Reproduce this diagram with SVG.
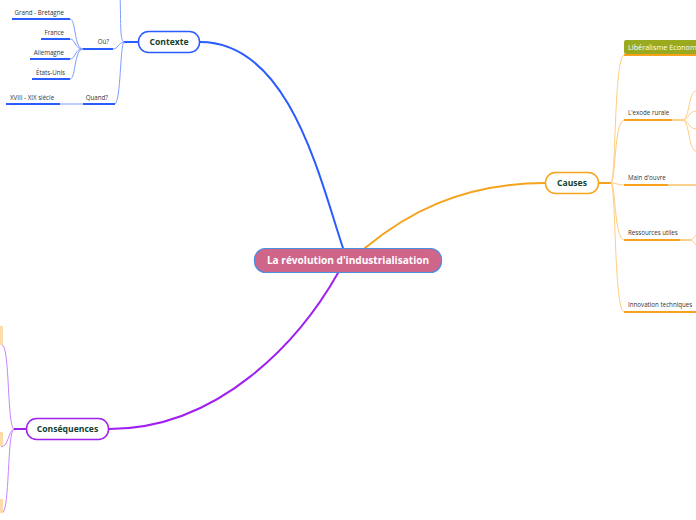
<svg xmlns="http://www.w3.org/2000/svg" width="696" height="520" viewBox="0 0 696 520">
<style>
.main{fill:none;stroke-width:2;stroke-linecap:round}
.thin{fill:none;stroke-width:1}
.ul{fill:none;stroke-width:2}
.b{stroke:#2a5cff}.bt{stroke:#7f9dff}
.o{stroke:#f7a21b}.ot{stroke:#ffcd80}
.p{stroke:#a020f0}.pt{stroke:#c983ff}
.t1{font-family:"Open Sans","Noto Sans",sans-serif;font-weight:bold;font-size:8.6px;fill:#123f30}
.t2{font-family:"Open Sans","Noto Sans",sans-serif;font-size:6.2px;fill:#333}
</style>
<g id="connectors">
<path class="main b" d="M200,42 C290,42 320,180 343,248"/>
<path class="main o" d="M365,248 C405,215 460,183 545,183"/>
<path class="main p" d="M338,273 C300,340 220,429 109,429"/>
<path class="ul b" d="M138,42 L124,42"/>
<path class="thin bt" d="M124,42 C120,40 121,30 120,-10"/>
<path class="thin bt" d="M124,42 C118,43 118,49 113,49"/>
<path class="thin bt" d="M124,42 C120,45 121,100 115,104"/>
<path class="thin bt" d="M83,49 C74,49 76,19 70,19"/>
<path class="thin bt" d="M83,49 C74,49 76,39 70,39"/>
<path class="thin bt" d="M83,49 C74,49 76,59 70,59"/>
<path class="thin bt" d="M83,49 C74,49 76,79 70,79"/>
<path class="thin bt" d="M83,104 L60,104"/>
<path class="ul o" d="M599,183 L611,183"/>
<path class="thin ot" d="M611,183 C616,180 614,58 624,55"/>
<path class="thin ot" d="M611,183 C616,180 614,122 624,120"/>
<path class="thin ot" d="M611,183 C616,183 618,185 624,185"/>
<path class="thin ot" d="M611,183 C616,186 614,238 624,240"/>
<path class="thin ot" d="M611,183 C616,186 614,310 624,312"/>
<path class="thin o" d="M672,120 L683,120"/>
<path class="thin ot" d="M683,120 C690,118 688,92 696,91"/>
<path class="thin ot" d="M683,120 C690,118 688,112 696,111"/>
<path class="thin ot" d="M683,120 C690,122 688,128 696,129"/>
<path class="thin ot" d="M683,120 C690,122 688,150 696,151"/>
<path class="thin o" d="M668,185 L696,185"/>
<path class="thin o" d="M680,240 L690,240"/>
<path class="thin ot" d="M690,240 C693,240 694,236 697,234"/>
<path class="thin ot" d="M690,240 C693,240 694,244 697,246"/>
<path class="ul p" d="M26,429 L14,429"/>
<path class="thin pt" d="M14,429 C7,427 10,346 2,345"/>
<path class="thin pt" d="M14,429 C8,431 9,446 1,447"/>
<path class="thin pt" d="M14,429 C7,431 10,512 2,513"/>
</g>
<g id="central">
<rect x="254.5" y="248.5" width="187" height="24" rx="11" fill="#d0658a" stroke="#4a8fe0" stroke-width="1.2"/>
<text x="348" y="264" text-anchor="middle" font-family="Open Sans,Noto Sans,sans-serif" font-weight="bold" font-size="10.1" fill="#fff">La révolution d'industrialisation</text>
</g>
<g id="contexte">
<rect x="138.5" y="31.5" width="61" height="21" rx="10" fill="#fff" stroke="#2a5cff" stroke-width="1.5"/>
<text class="t1" x="169" y="45" text-anchor="middle">Contexte</text>
</g>
<g id="causes">
<rect x="545.5" y="172.5" width="53" height="21" rx="10" fill="#fff" stroke="#f7a21b" stroke-width="1.5"/>
<text class="t1" x="572" y="186" text-anchor="middle">Causes</text>
</g>
<g id="consequences">
<rect x="26.5" y="418.5" width="82" height="21" rx="10" fill="#fff" stroke="#a020f0" stroke-width="1.5"/>
<text class="t1" x="67.5" y="432" text-anchor="middle">Conséquences</text>
</g>
<g id="ou">
<text class="t2" x="109" y="44" text-anchor="end">Où?</text>
<path class="ul b" d="M83,49 L113,49"/>
</g>
<g id="quand">
<text class="t2" x="108" y="99.5" text-anchor="end">Quand?</text>
<path class="ul b" d="M83,104 L115,104"/>
</g>
<g id="gb">
<text class="t2" x="64" y="14.5" text-anchor="end">Grand - Bretagne</text>
<path class="ul b" d="M12,19 L70,19"/>
</g>
<g id="france">
<text class="t2" x="64" y="34.5" text-anchor="end">France</text>
<path class="ul b" d="M41,39 L70,39"/>
</g>
<g id="allemagne">
<text class="t2" x="64" y="54.5" text-anchor="end">Allemagne</text>
<path class="ul b" d="M30,59 L70,59"/>
</g>
<g id="etats-unis">
<text class="t2" x="65" y="74.5" text-anchor="end">États-Unis</text>
<path class="ul b" d="M32,79 L70,79"/>
</g>
<g id="siecle">
<text class="t2" x="10" y="99.5">XVIII - XIX siècle</text>
<path class="ul b" d="M6,104 L60,104"/>
</g>
<g id="liberalisme">
<rect x="624" y="40" width="80" height="14" rx="2" fill="#9aaa1e"/>
<path class="ul o" d="M624,55 L696,55"/>
<text x="628" y="50" font-family="Open Sans,Noto Sans,sans-serif" font-size="7.3" fill="#fff">Libéralisme Econom</text>
</g>
<g id="exode">
<text class="t2" x="628" y="115">L'exode rurale</text>
<path class="ul o" d="M624,120 L672,120"/>
</g>
<g id="main-oeuvre">
<text class="t2" x="628" y="179.5">Main d'ouvre</text>
<path class="ul o" d="M624,185 L668,185"/>
</g>
<g id="ressources">
<text class="t2" x="628" y="234.5">Ressources utiles</text>
<path class="ul o" d="M624,240 L680,240"/>
</g>
<g id="innovation">
<text class="t2" x="628" y="306.5">Innovation techniques</text>
<path class="ul o" d="M624,312 L696,312"/>
</g>
<g id="cons-1"><rect x="-10" y="326" width="13" height="19" fill="#fddcaa"/></g>
<g id="cons-2"><rect x="-10" y="432" width="13" height="14" fill="#fddcaa"/></g>
<g id="cons-3"><rect x="-10" y="499" width="13" height="14" fill="#fddcaa"/></g>
</svg>
